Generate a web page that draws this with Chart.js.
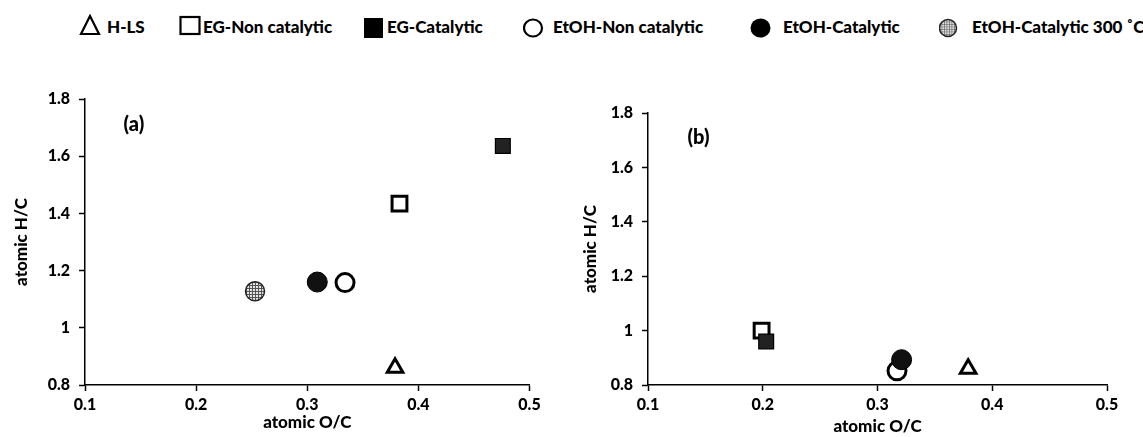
<!DOCTYPE html>
<html>
<head>
<meta charset="utf-8">
<script src="https://cdn.jsdelivr.net/npm/chart.js@4.4.1/dist/chart.umd.min.js"></script>
<style>
  body { margin: 0; background: #fff; width: 1143px; height: 437px; overflow: hidden; position: relative; font-family: Lato, sans-serif; }
  canvas { position: absolute; }
  .lg { position: absolute; top: 16px; height: 22px; line-height: 22px; font: 900 17px Lato, sans-serif; color: #000; white-space: nowrap; }
  .mk { position: absolute; top: 14px; }
</style>
</head>
<body>
<div id="legend"></div>
<canvas id="chartA" width="565" height="377" style="left:0;top:60px"></canvas>
<canvas id="chartB" width="578" height="377" style="left:565px;top:60px"></canvas>
<script>
// series
var seriesNames = ['H-LS', 'EG-Non catalytic', 'EG-Catalytic', 'EtOH-Non catalytic', 'EtOH-Catalytic', 'EtOH-Catalytic 300 \u02DAC'];

// panel (a)
var aOC = [0.379, 0.383, 0.476, 0.334, 0.309, 0.253];
var aHC = [0.86, 1.434, 1.636, 1.158, 1.16, 1.128];

// panel (b) - no 300 C sample
var bOC = [0.379, 0.199, 0.203, 0.317, 0.321, null];
var bHC = [0.86, 1.0, 0.96, 0.852, 0.893, null];

var xTicks = [0.1, 0.2, 0.3, 0.4, 0.5];
var yTicks = [0.8, 1, 1.2, 1.4, 1.6, 1.8];
var panelLabels = ['(a)', '(b)'];

// hatched fill for the 300 C marker
var pc = document.createElement('canvas');
pc.width = 3; pc.height = 3;
var pctx = pc.getContext('2d');
pctx.fillStyle = '#e6e6e6';
pctx.fillRect(0, 0, 3, 3);
pctx.fillStyle = '#555';
pctx.fillRect(0, 0, 3, 1);
pctx.fillRect(0, 0, 1, 3);
var hatch = pctx.createPattern(pc, 'repeat');

var styles = [
  { pointStyle: 'triangle', radius: 9, bg: '#fff', border: '#000', bw: 3 },
  { pointStyle: 'rect', radius: 10.5, bg: '#fff', border: '#000', bw: 3 },
  { pointStyle: 'rect', radius: 10.5, bg: '#222', border: '#000', bw: 1.2 },
  { pointStyle: 'circle', radius: 9, bg: '#fff', border: '#000', bw: 3 },
  { pointStyle: 'circle', radius: 10, bg: '#111', border: '#000', bw: 1 },
  { pointStyle: 'circle', radius: 9.5, bg: hatch, border: '#222', bw: 1.5 }
];

function makeDatasets(oc, hc) {
  var ds = [];
  for (var i = 0; i < seriesNames.length; i++) {
    if (oc[i] == null) continue;
    var s = styles[i];
    ds.push({
      label: seriesNames[i],
      data: [{ x: oc[i], y: hc[i] }],
      pointStyle: s.pointStyle,
      pointRadius: s.radius,
      pointBackgroundColor: s.bg,
      pointBorderColor: s.border,
      pointBorderWidth: s.bw,
      order: -i
    });
  }
  return ds;
}

var panelLabel = {
  id: 'panelLabel',
  afterDatasetsDraw: function(chart, args, opts) {
    var ctx = chart.ctx;
    ctx.save();
    ctx.font = '900 20px Lato, sans-serif';
    ctx.fillStyle = '#000';
    ctx.textAlign = 'center';
    ctx.textBaseline = 'middle';
    ctx.fillText(opts.text, chart.scales.x.getPixelForValue(0.144), chart.scales.y.getPixelForValue(1.71));
    ctx.restore();
  }
};

function fmt(v) { return String(+(+v).toFixed(1)); }

function makeOptions(p) {
  return {
    responsive: false,
    animation: false,
    devicePixelRatio: 1,
    layout: { padding: { top: p.top, right: p.right, left: 0, bottom: 0 } },
    plugins: {
      legend: { display: false },
      tooltip: { enabled: false },
      panelLabel: { text: p.label }
    },
    scales: {
      x: {
        type: 'linear',
        min: xTicks[0], max: xTicks[xTicks.length - 1],
        afterBuildTicks: function(s) { s.ticks = xTicks.map(function(v) { return { value: v }; }); },
        afterFit: function(s) { s.height = 52; },
        grid: { drawOnChartArea: false, drawTicks: true, tickLength: 6, tickColor: '#000', tickWidth: 1.5 },
        border: { color: '#000', width: 1.5 },
        ticks: { color: '#000', font: { family: 'Lato', weight: 900, size: 16 }, padding: 4, maxRotation: 0, callback: fmt },
        title: { display: true, text: 'atomic O/C', color: '#000', font: { family: 'Lato', weight: 900, size: 17 }, padding: { top: 0, bottom: p.xtb } }
      },
      y: {
        type: 'linear',
        min: yTicks[0], max: yTicks[yTicks.length - 1],
        afterBuildTicks: function(s) { s.ticks = yTicks.map(function(v) { return { value: v }; }); },
        afterFit: function(s) { s.width = p.yw; },
        grid: { drawOnChartArea: false, drawTicks: true, tickLength: 6, tickColor: '#000', tickWidth: 1.5 },
        border: { color: '#000', width: 1.5 },
        ticks: { color: '#000', font: { family: 'Lato', weight: 900, size: 16 }, padding: 9, callback: fmt },
        title: { display: true, text: 'atomic H/C', color: '#000', font: { family: 'Lato', weight: 900, size: 17 }, padding: { top: p.ytp, bottom: 0 } }
      }
    }
  };
}

new Chart(document.getElementById('chartA'), {
  type: 'scatter',
  data: { datasets: makeDatasets(aOC, aHC) },
  options: makeOptions({ top: 39, right: 35.5, yw: 85, ytp: 11, xtb: 4, label: panelLabels[0] }),
  plugins: [panelLabel]
});

new Chart(document.getElementById('chartB'), {
  type: 'scatter',
  data: { datasets: makeDatasets(bOC, bHC) },
  options: makeOptions({ top: 53, right: 36, yw: 83, ytp: 15, xtb: 0, label: panelLabels[1] }),
  plugins: [panelLabel]
});

// legend across the top
var markerX = [79, 179, 363, 523, 750, 939];
var textX = [107, 203, 387, 553, 783, 972];
var markerSvg = [
  '<svg width="22" height="22"><polygon points="11,2 20,20 2,20" fill="#fff" stroke="#000" stroke-width="2.2"/></svg>',
  '<svg width="22" height="22"><rect x="1.5" y="3" width="19" height="17" fill="#fff" stroke="#000" stroke-width="2.2"/></svg>',
  '<svg width="22" height="24"><rect x="1" y="4" width="19" height="20" fill="#000"/></svg>',
  '<svg width="22" height="24"><ellipse cx="10" cy="14" rx="9" ry="8.5" fill="#fff" stroke="#000" stroke-width="2.2"/></svg>',
  '<svg width="22" height="24"><ellipse cx="10.5" cy="14" rx="10" ry="9.5" fill="#000"/></svg>',
  '<svg width="22" height="24"><defs><pattern id="hp" width="2.5" height="2.5" patternUnits="userSpaceOnUse"><rect width="2.5" height="2.5" fill="#ddd"/><path d="M0 0H2.5M0 0V2.5" stroke="#444" stroke-width="1"/></pattern></defs><ellipse cx="9" cy="14" rx="8.5" ry="8.5" fill="url(#hp)" stroke="#222" stroke-width="1.5"/></svg>'
];
var lg = document.getElementById('legend');
for (var i = 0; i < seriesNames.length; i++) {
  var m = document.createElement('div');
  m.className = 'mk';
  m.style.left = markerX[i] + 'px';
  m.innerHTML = markerSvg[i];
  lg.appendChild(m);
  var t = document.createElement('div');
  t.className = 'lg';
  t.style.left = textX[i] + 'px';
  t.textContent = seriesNames[i];
  lg.appendChild(t);
}
</script>
</body>
</html>
